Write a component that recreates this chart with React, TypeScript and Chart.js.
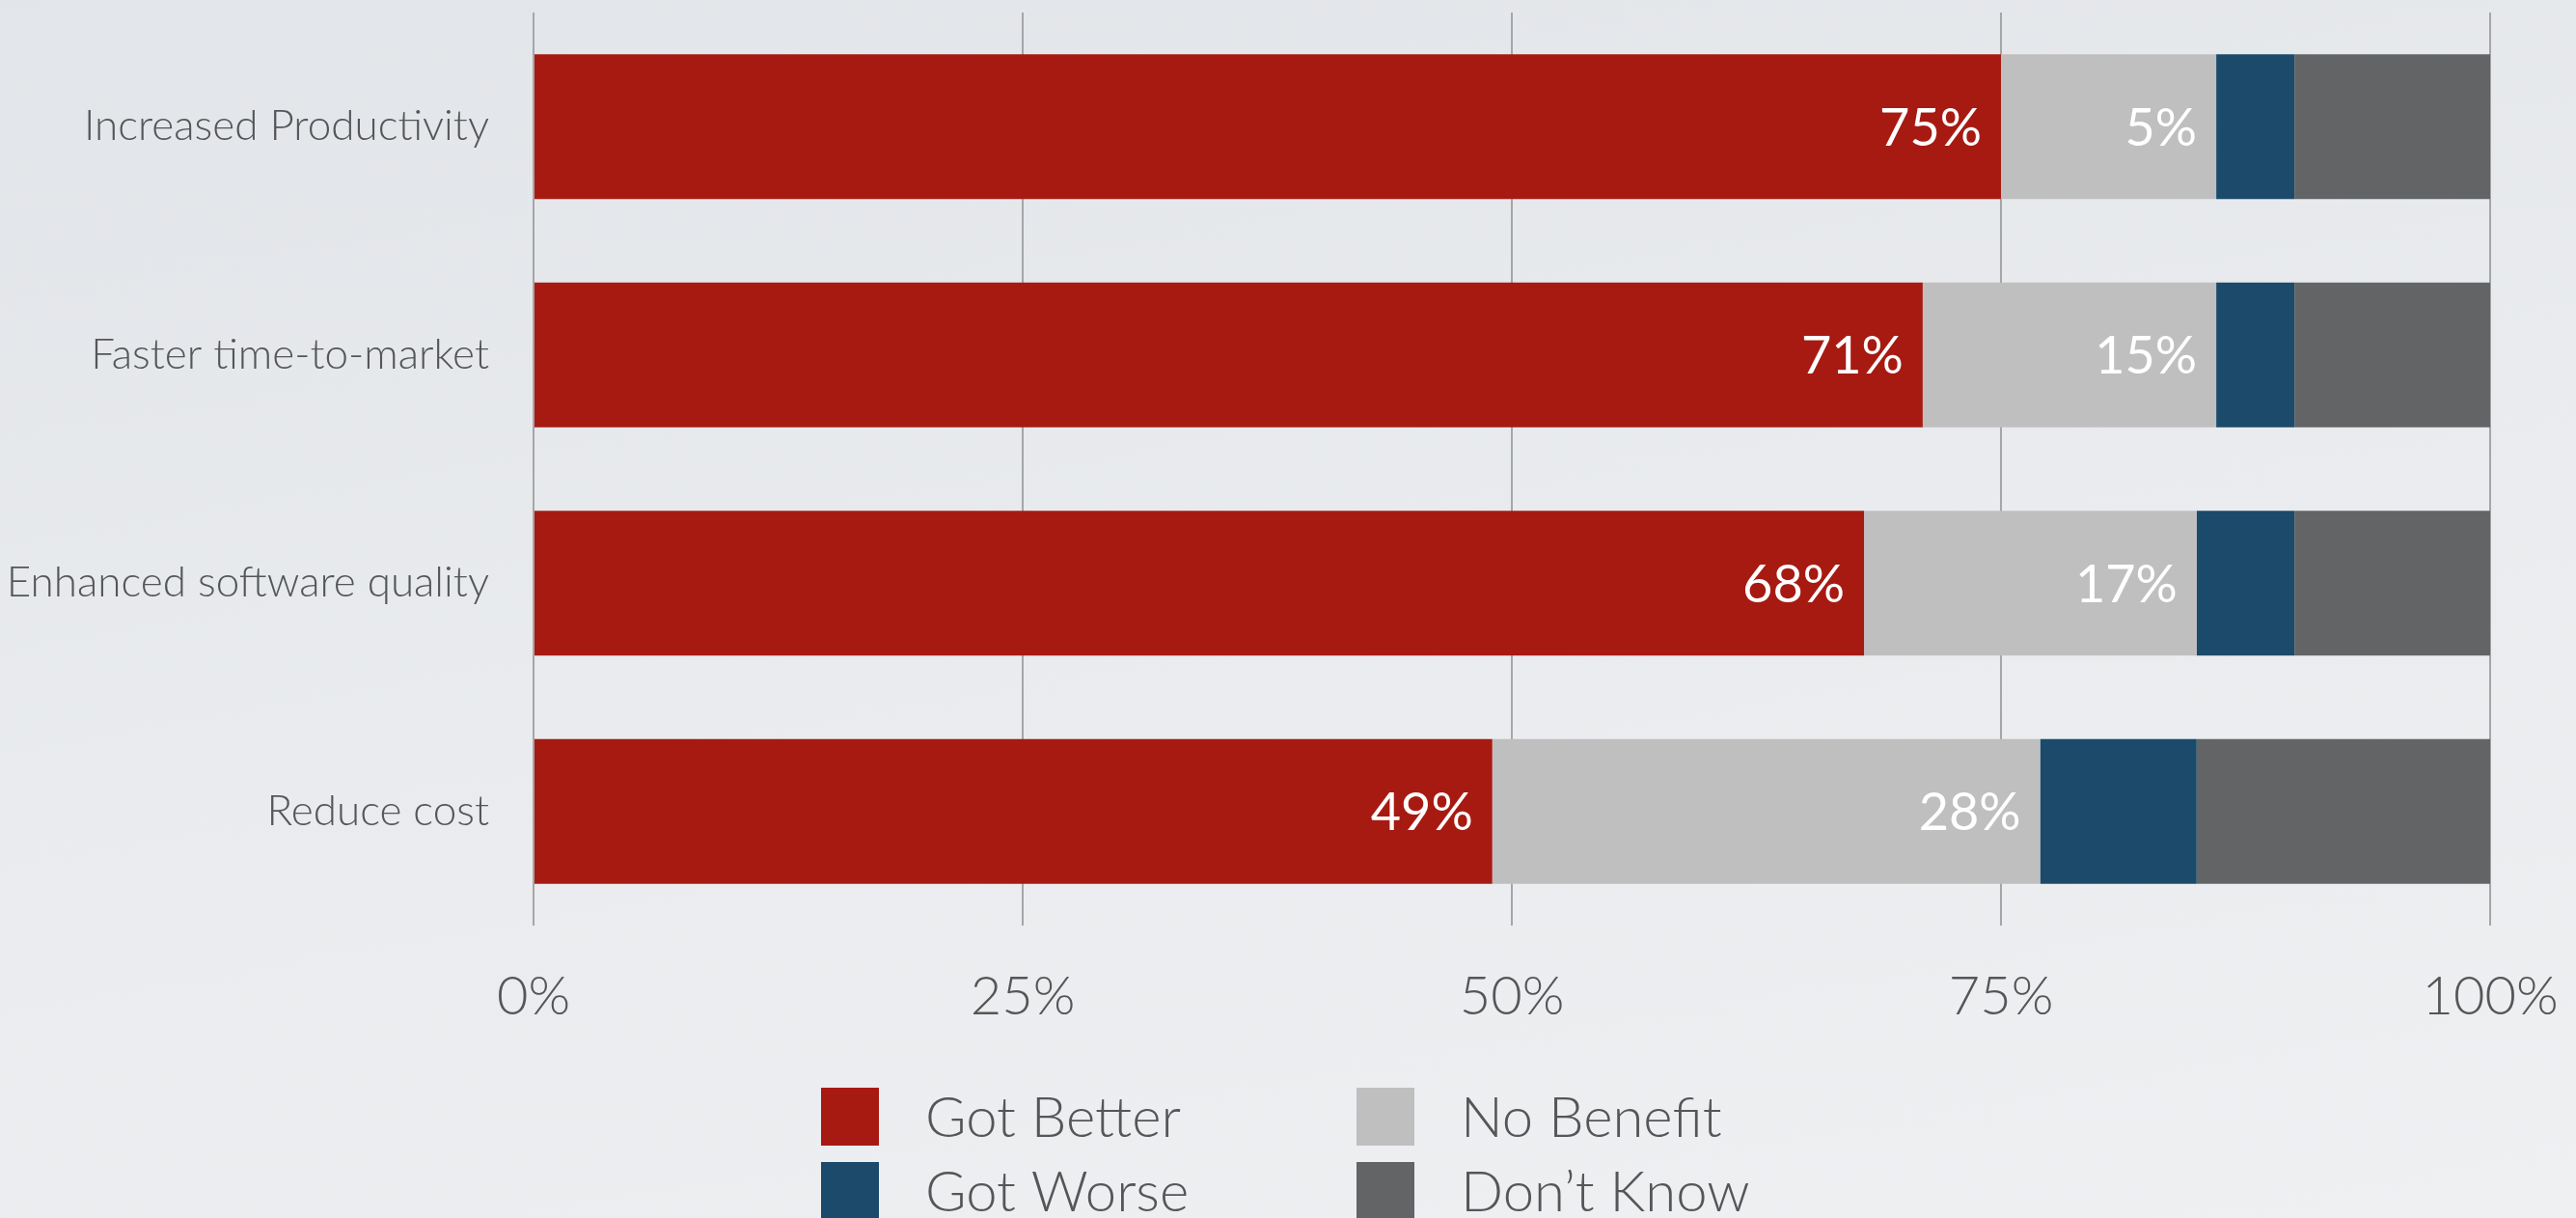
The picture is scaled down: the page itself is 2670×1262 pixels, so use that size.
import React, { useEffect, useRef } from 'react';
import { Chart, registerables } from 'chart.js';

Chart.register(...registerables);

const categories = ['Increased Productivity', 'Faster time-to-market', 'Enhanced software quality', 'Reduce cost'];
const seriesNames = ['Got Better', 'No Benefit', 'Got Worse', 'Don\u2019t Know'];
const gotBetter = [75, 71, 68, 49];
const noBenefit = [11, 15, 17, 28];
const gotWorse = [4, 4, 5, 8];
const dontKnow = [10, 10, 10, 15];
const gotBetterLabels = ['75%', '71%', '68%', '49%'];
const noBenefitLabels = ['5%', '15%', '17%', '28%'];
const xTicks = [0, 25, 50, 75, 100];

const seriesColors = ['#A71A12', '#BFBFBF', '#1B4A6B', '#636466'];
const FONT = 'Lato, "Noto Sans", sans-serif';
const TEXT = '#555657';

const dataLabelPlugin = {
  id: 'segLabels',
  afterDatasetsDraw(chart: any) {
    const ctx = chart.ctx;
    const labelSets = [gotBetterLabels, noBenefitLabels];
    ctx.save();
    ctx.fillStyle = '#ffffff';
    ctx.font = `400 54px ${FONT}`;
    ctx.textAlign = 'right';
    ctx.textBaseline = 'middle';
    labelSets.forEach((labels, di) => {
      const meta = chart.getDatasetMeta(di);
      meta.data.forEach((el: any, i: number) => {
        ctx.fillText(labels[i], el.x - 20, el.y + 2);
      });
    });
    ctx.restore();
  },
};

const legendPlugin = {
  id: 'gridLegend',
  afterDraw(chart: any) {
    const ctx = chart.ctx;
    const colX = [851, 1406];
    const rowY = [1127, 1204];
    const box = 60;
    ctx.save();
    ctx.font = `300 58px ${FONT}`;
    ctx.textAlign = 'left';
    ctx.textBaseline = 'middle';
    chart.data.datasets.forEach((ds: any, i: number) => {
      const c = i % 2;
      const r = Math.floor(i / 2);
      const x = colX[c];
      const y = rowY[r];
      ctx.fillStyle = ds.backgroundColor;
      ctx.fillRect(x, y, box, box);
      ctx.fillStyle = TEXT;
      ctx.fillText(ds.label, x + 108, y + box / 2 + 2);
    });
    ctx.restore();
  },
};

export default function App() {
  const ref = useRef<HTMLCanvasElement>(null);
  useEffect(() => {
    if (!ref.current) return;
    const values = [gotBetter, noBenefit, gotWorse, dontKnow];
    const chart = new Chart(ref.current, {
      type: 'bar',
      data: {
        labels: categories,
        datasets: values.map((v, i) => ({
          label: seriesNames[i],
          data: v,
          backgroundColor: seriesColors[i],
          borderWidth: 0,
          categoryPercentage: 1,
          barPercentage: 0.634,
        })),
      },
      options: {
        indexAxis: 'y',
        animation: false,
        responsive: false,
        maintainAspectRatio: false,
        layout: { padding: { top: 13, right: 89, bottom: 163, left: 0 } },
        plugins: {
          legend: { display: false },
          tooltip: { enabled: false },
        },
        scales: {
          x: {
            stacked: true,
            min: 0,
            max: 100,
            afterBuildTicks: (s: any) => {
              s.ticks = xTicks.map((v) => ({ value: v }));
            },
            afterFit: (s: any) => {
              s.height = 140;
              s.paddingLeft = 0;
              s.paddingRight = 0;
            },
            ticks: {
              callback: (v: any) => v + '%',
              font: { family: FONT, size: 56, weight: '300' },
              color: TEXT,
              padding: 40,
              maxRotation: 0,
            },
            grid: { color: '#a5a6a8', lineWidth: 2, drawTicks: false },
            border: { display: false },
          },
          y: {
            stacked: true,
            afterFit: (s: any) => {
              s.width = 553;
              s.paddingTop = 0;
              s.paddingBottom = 0;
            },
            ticks: {
              font: { family: FONT, size: 44, weight: '300' },
              color: TEXT,
              padding: 46,
            },
            grid: { display: false, drawTicks: false },
            border: { display: false },
          },
        },
      } as any,
      plugins: [dataLabelPlugin, legendPlugin],
    });
    return () => chart.destroy();
  }, []);

  return (
    <div
      style={{
        position: 'fixed',
        left: 0,
        top: 0,
        width: 2670,
        height: 1262,
        background: 'linear-gradient(170deg, #e2e5e9 0%, #e9ebee 50%, #eff0f2 100%)',
      }}
    >
      <canvas ref={ref} width={2670} height={1262} style={{ width: 2670, height: 1262, display: 'block' }} />
    </div>
  );
}
